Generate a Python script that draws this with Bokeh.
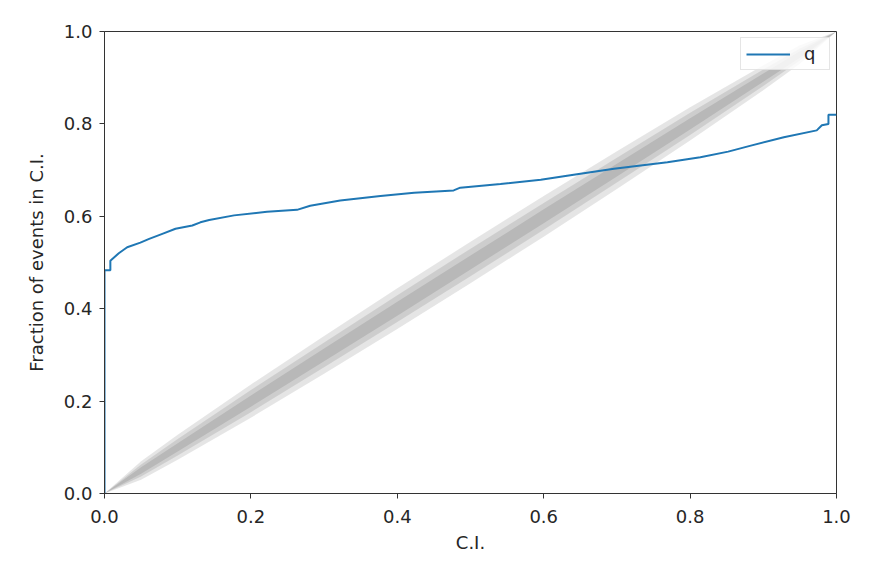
from bokeh.plotting import figure
from bokeh.models import Range1d, FixedTicker, PrintfTickFormatter, Legend, LegendItem
from bokeh.embed import file_html
from bokeh.resources import INLINE

# Confidence band support points (credible interval) and estimated half-widths
band_x = [0.0, 0.05, 0.1, 0.2, 0.3, 0.4, 0.5, 0.6, 0.7, 0.8, 0.9, 0.95, 1.0]
band_hw_997 = [0.0, 0.020, 0.027, 0.036, 0.041, 0.044, 0.045, 0.044, 0.041, 0.036, 0.027, 0.020, 0.0]
band_hw_95 = [0.0, 0.013, 0.018, 0.024, 0.027, 0.029, 0.030, 0.029, 0.027, 0.024, 0.018, 0.013, 0.0]
band_hw_68 = [0.0, 0.007, 0.009, 0.012, 0.014, 0.015, 0.015, 0.015, 0.014, 0.012, 0.009, 0.007, 0.0]

# PP curve for parameter q
ci = [0.0, 0.0, 0.008, 0.008, 0.0195, 0.031, 0.049, 0.061, 0.079, 0.097, 0.12, 0.131,
      0.143, 0.177, 0.222, 0.263, 0.281, 0.322, 0.377, 0.423, 0.477, 0.486, 0.541,
      0.596, 0.641, 0.696, 0.769, 0.814, 0.852, 0.883, 0.928, 0.973, 0.980, 0.989,
      0.989, 1.0]
frac_q = [0.0, 0.483, 0.483, 0.504, 0.520, 0.533, 0.543, 0.551, 0.562, 0.573, 0.580, 0.587,
          0.592, 0.602, 0.610, 0.614, 0.623, 0.634, 0.644, 0.651, 0.656, 0.662, 0.670,
          0.679, 0.690, 0.703, 0.717, 0.728, 0.740, 0.753, 0.771, 0.786, 0.797, 0.800,
          0.820, 0.820]

ticks = [0.0, 0.2, 0.4, 0.6, 0.8, 1.0]

FONT = "DejaVu Sans"
TXT = "#262626"
FS = "18px"

p = figure(width=858, height=555, output_backend="svg", toolbar_location=None,
           x_range=Range1d(0, 1), y_range=Range1d(0, 1),
           min_border_left=104, min_border_right=22, min_border_top=31, min_border_bottom=62,
           background_fill_color="white", border_fill_color="white")

p.xgrid.visible = False
p.ygrid.visible = False
p.outline_line_color = "#333333"
p.outline_line_width = 1

for hw in (band_hw_997, band_hw_95, band_hw_68):
    lo = [x - h for x, h in zip(band_x, hw)]
    hi = [x + h for x, h in zip(band_x, hw)]
    p.varea(x=band_x, y1=lo, y2=hi, fill_color="black", fill_alpha=0.1)

r = p.line(ci, frac_q, line_color="#1f77b4", line_width=2)

for ax in (p.xaxis[0], p.yaxis[0]):
    ax.ticker = FixedTicker(ticks=ticks)
    ax.formatter = PrintfTickFormatter(format="%.1f")
    ax.major_label_text_font = FONT
    ax.major_label_text_font_size = FS
    ax.major_label_text_color = TXT
    ax.axis_label_text_font = FONT
    ax.axis_label_text_font_size = FS
    ax.axis_label_text_font_style = "normal"
    ax.axis_label_text_color = TXT
    ax.major_tick_out = 5
    ax.major_tick_in = 0
    ax.minor_tick_line_color = None
    ax.axis_line_color = "#333333"
    ax.major_tick_line_color = "#333333"

p.xaxis.axis_label = "C.I."
p.yaxis.axis_label = "Fraction of events in C.I."
p.xaxis.major_label_standoff = 11
p.yaxis.major_label_standoff = 7
p.xaxis.axis_label_standoff = 6
p.yaxis.axis_label_standoff = 14

legend = Legend(items=[LegendItem(label="q", renderers=[r])], location="top_right",
                label_text_font=FONT, label_text_font_size=FS, label_text_color=TXT,
                border_line_color="#cccccc", border_line_width=1,
                background_fill_color="white", background_fill_alpha=0.8,
                glyph_width=44, label_standoff=14, padding=5, margin=6, spacing=0)
p.add_layout(legend)

open("out.html", "w").write(file_html(p, INLINE))
